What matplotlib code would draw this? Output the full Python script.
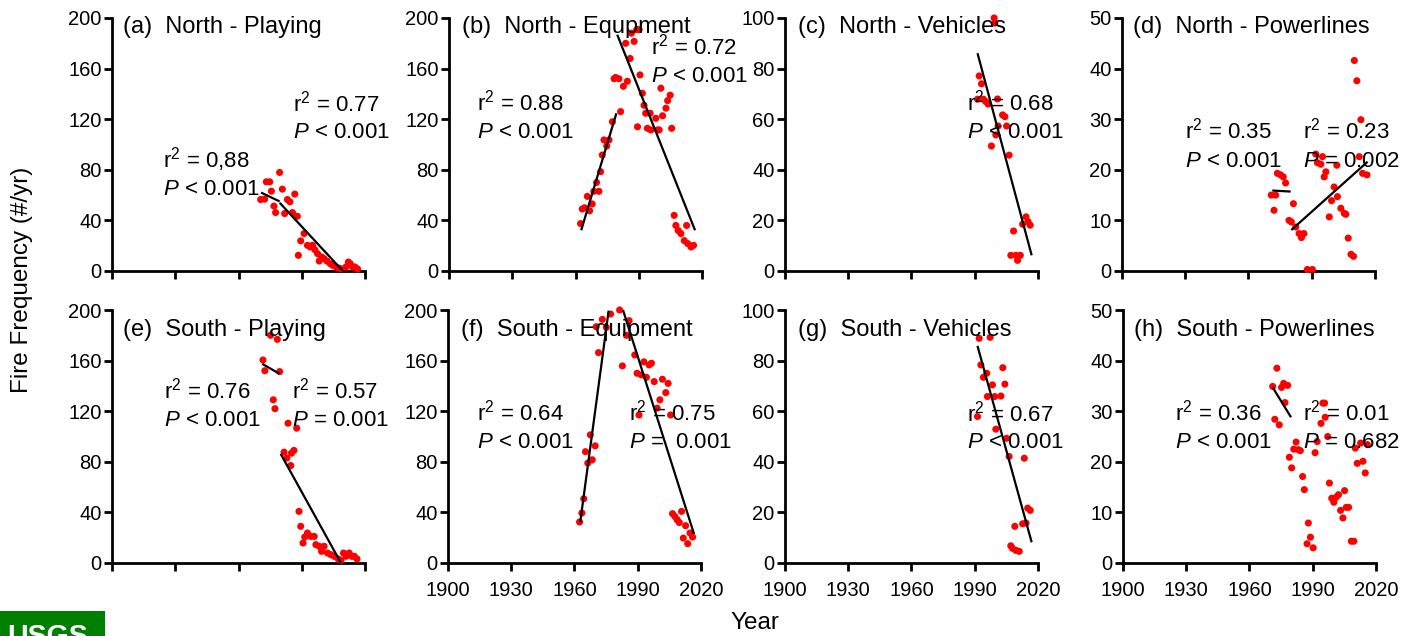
import matplotlib
matplotlib.use("Agg")
import matplotlib.pyplot as plt
from matplotlib.patches import Rectangle
import numpy as np

plt.rcParams['font.family'] = ['Liberation Sans', 'DejaVu Sans']
plt.rcParams['mathtext.fontset'] = 'custom'
plt.rcParams['mathtext.rm'] = 'Liberation Sans'
plt.rcParams['mathtext.it'] = 'Liberation Sans:italic'

# ---------------- data ----------------
years_a = [1970.5, 1972.4, 1973.2, 1974.8, 1975.6, 1976.8, 1977.6, 1979.5, 1980.8, 1981.9,
           1983.2, 1984.4, 1985.6, 1986.7, 1987.9, 1988.4, 1989.5, 1991.1, 1992.7, 1994.0,
           1995.1, 1996.2, 1997.5, 1998.3, 1999.4, 2000.6, 2001.9, 2003.5, 2004.6, 2006.2,
           2007.3, 2008.6, 2011.0, 2012.1, 2013.0, 2014.1, 2015.2, 2016.5]
vals_a = [56.5, 56.8, 70.5, 70.5, 63.1, 51.3, 46.2, 77.9, 64.7, 45.4,
          56.5, 54.7, 46.2, 60.8, 43.3, 12.4, 23.8, 29.6, 20.3, 19.0,
          20.3, 16.9, 13.7, 7.9, 11.1, 9.8, 7.9, 5.8, 4.5, 3.2,
          2.4, 1.8, 3.2, 7.1, 5.8, 3.2, 3.2, 1.6]

years_b = [1962.4, 1963.2, 1964.3, 1965.6, 1966.7, 1967.9, 1968.7, 1970.0, 1971.1, 1971.9,
           1972.7, 1973.5, 1974.8, 1975.9, 1977.5, 1978.3, 1979.0, 1980.6, 1981.4, 1982.7,
           1983.8, 1984.6, 1985.9, 1986.5, 1987.8, 1989.0, 1989.4, 1990.2, 1990.6, 1991.7,
           1992.5, 1993.3, 1994.1, 1995.4, 1995.7, 1998.1, 1998.9, 1999.7, 2000.5, 2001.3,
           2002.9, 2003.7, 2004.9, 2005.6, 2006.8, 2007.6, 2008.7, 2010.0, 2011.6, 2012.7,
           2013.2, 2014.8, 2016.0]
vals_b = [37.5, 49, 50, 59, 47.6, 53, 63, 70, 63, 78.5,
          91.7, 103.6, 98.8, 103.6, 118, 152, 153, 152, 126, 146,
          180, 150, 168, 188, 181.5, 190.8, 114, 190.8, 155, 140.5,
          131, 124.7, 112.8, 124.7, 111.5, 120.7, 111.5, 111.5, 144.5, 122.7,
          128.7, 134.7, 139, 112.8, 44, 36, 32, 29.6, 24, 36,
          21.7, 19, 20.3]

years_c = [1991.3, 1992.1, 1993.2, 1994.1, 1995.2, 1996.3, 1997.9, 1999.2, 1999.5, 2000.0,
           2000.8, 2001.1, 2003.2, 2004.3, 2005.1, 2006.3, 2007.1, 2008.4, 2009.5, 2010.3,
           2011.6, 2012.7, 2014.3, 2015.3, 2016.3]
vals_c = [67.9, 77.1, 74.0, 67.9, 67.0, 66.0, 49.4, 100, 98, 53.8,
          68, 57.3, 61.7, 61.0, 57.3, 45.8, 6.2, 15.8, 6.2, 4.2,
          6.2, 18.5, 21.4, 19.5, 18.1]

years_d = [1970.8, 1972.1, 1972.9, 1973.7, 1975.2, 1976.5, 1977.6, 1979.2, 1980.3, 1981.3,
           1982.4, 1984.0, 1985.1, 1986.3, 1987.9, 1990.3, 1991.9, 1992.7, 1994.3, 1995.1,
           1995.9, 1996.7, 1998.3, 1999.4, 2000.6, 2001.9, 2002.2, 2003.8, 2005.4, 2006.2,
           2007.3, 2008.6, 2009.8, 2010.2, 2011.4, 2012.5, 2013.3, 2014.1, 2016.2]
vals_d = [15, 12, 15, 19.3, 19, 18.6, 17.4, 10, 9.7, 13.3,
          8.7, 7.4, 6.6, 7.4, 0.3, 0.3, 23.1, 21.4, 21.1, 22.6,
          18.6, 19.6, 10.7, 13.9, 16.6, 20.9, 14.7, 12.4, 11.4, 11.2,
          6.5, 3.3, 2.9, 41.6, 37.6, 22.6, 29.9, 19.3, 19.0]

years_e = [1971.6, 1972.5, 1975.2, 1976.5, 1977.3, 1978.4, 1979.5, 1981.6, 1982.9, 1983.5,
           1984.8, 1985.1, 1986.3, 1987.6, 1988.7, 1989.5, 1990.6, 1991.4, 1992.7, 1994.3,
           1995.9, 1996.7, 1998.3, 1999.4, 2000.6, 2002.2, 2003.8, 2005.4, 2007.3, 2008.6,
           2009.8, 2011.0, 2012.5, 2013.7, 2014.9, 2016.2]
vals_e = [160.5, 152, 180, 129, 122, 176.8, 151.3, 87.6, 83, 110.5,
          77, 86.8, 89, 106.6, 40.8, 29, 15.8, 20.5, 23.7, 21,
          21, 14.5, 13.2, 9.2, 13.2, 7.9, 6.6, 5.3, 3.2, 2.1,
          7.9, 5.3, 7.9, 5.3, 5.3, 3.2]

years_f = [1962.4, 1963.5, 1964.4, 1965.2, 1966.3, 1967.5, 1968.4, 1969.8, 1970.3, 1971.4,
           1973.2, 1975.1, 1977.1, 1981.4, 1982.7, 1984.6, 1985.9, 1988.6, 1989.7, 1990.6,
           1991.7, 1992.9, 1994.1, 1995.4, 1996.5, 1997.8, 1999.2, 2000.5, 2001.7, 2003.3,
           2004.4, 2005.6, 2006.5, 2007.6, 2008.7, 2009.7, 2010.8, 2011.6, 2012.7, 2013.7,
           2014.8, 2016.0]
vals_f = [32.4, 39.5, 50.8, 88, 79, 101.3, 81.6, 92.6, 186.8, 166.3,
          192.6, 186.3, 196.8, 200, 155.8, 180, 191.6, 164.5, 150, 117,
          148.7, 159, 146.8, 156.6, 157.9, 143.4, 122.4, 129, 145.3, 134.7,
          142, 117, 39, 36.8, 34.2, 32, 40.8, 19.7, 29.5, 15.3,
          23.7, 20.5]

years_g = [1991.3, 1992.1, 1992.9, 1994.1, 1995.7, 1996.0, 1997.3, 1998.4, 1999.5, 2000.0,
           2002.4, 2003.3, 2004.3, 2005.1, 2006.3, 2007.1, 2007.9, 2009.0, 2009.5, 2011.1,
           2012.7, 2013.5, 2014.3, 2015.1, 2016.3]
vals_g = [57.9, 88.8, 78.3, 73.4, 75, 65.8, 89.2, 70.4, 65.8, 52.9,
          66, 77.2, 70.7, 49.3, 42.1, 6.8, 5.8, 14.5, 5.0, 4.6,
          15.5, 41.4, 15.8, 21.7, 20.8]

years_h = [1971.0, 1972.0, 1973.0, 1974.1, 1975.2, 1976.2, 1976.8, 1978.1, 1978.9, 1980.0,
           1981.0, 1982.1, 1983.2, 1984.1, 1985.2, 1986.0, 1987.3, 1987.9, 1988.9, 1990.2,
           1991.1, 1992.1, 1993.9, 1994.8, 1995.6, 1995.9, 1997.1, 1997.9, 1999.0, 2000.0,
           2001.1, 2002.2, 2003.2, 2004.3, 2005.1, 2005.9, 2007.0, 2008.3, 2009.5, 2010.2,
           2011.1, 2012.7, 2013.8, 2014.9, 2015.9]
vals_h = [34.9, 28.4, 38.5, 27.3, 34.7, 35.5, 31.7, 35.1, 20.9, 18.8,
          22.5, 23.9, 22.4, 22.2, 17.1, 14.5, 3.8, 7.9, 5.1, 3.0,
          21.8, 24.0, 27.6, 31.6, 31.6, 28.8, 25.0, 15.8, 12.8, 12.0,
          13.0, 13.5, 10.4, 8.9, 14.3, 11.0, 11.0, 4.3, 4.3, 22.7,
          19.7, 23.7, 20.1, 17.8, 23.4]

# regression segments: (year0, value0, year1, value1)
fits_a = [(1970.7, 62, 1979.5, 55), (1979.5, 54, 2009.5, 0)]
fits_b = [(1962.7, 32.2, 1979.4, 124.7), (1979.8, 186.8, 2016.7, 32.2)]
fits_c = [(1991.3, 86.1, 2017.0, 6.2)]
fits_d = [(1971.3, 15.9, 1980.0, 15.7), (1980.3, 8.1, 2016.5, 21.6)]
fits_e = [(1971.3, 157.4, 1979.5, 149.5), (1980.0, 86.3, 2008.6, 0)]
fits_f = [(1962.7, 32.1, 1976.2, 199.5), (1983.0, 200, 2016.7, 22.9)]
fits_g = [(1991.3, 85.8, 2017.0, 8.2)]
fits_h = [(1971.0, 34.7, 1979.7, 28.8)]

titles = ["(a)  North - Playing", "(b)  North - Equpment", "(c)  North - Vehicles",
          "(d)  North - Powerlines", "(e)  South - Playing", "(f)  South - Equipment",
          "(g)  South - Vehicles", "(h)  South - Powerlines"]

# annotations: (r2 text, P text)
stats_a = [("0,88", "< 0.001"), ("0.77", "< 0.001")]
stats_b = [("0.88", "< 0.001"), ("0.72", "< 0.001")]
stats_c = [("0.68", "< 0.001")]
stats_d = [("0.35", "< 0.001"), ("0.23", "= 0.002")]
stats_e = [("0.76", "< 0.001"), ("0.57", "= 0.001")]
stats_f = [("0.64", "< 0.001"), ("0.75", "=  0.001")]
stats_g = [("0.67", "< 0.001")]
stats_h = [("0.36", "< 0.001"), ("0.01", "= 0.682")]

y_max = [200, 200, 100, 50, 200, 200, 100, 50]
y_step = [40, 40, 20, 10, 40, 40, 20, 10]
x_ticks = [1900, 1930, 1960, 1990, 2020]

# ---------------- layout ----------------
W, H = 1402, 636
fig = plt.figure(figsize=(W / 100, H / 100), dpi=100)

lefts_px = [112, 449, 785, 1122, 112, 448, 785, 1123]
bottoms_px = [271, 271, 271, 271, 563, 563, 563, 563]
aw, ah = 253, 253

# annotation positions in axes fraction: (x, y_r2, y_p)
stat_pos = [
    [(0.20, 0.41, 0.30), (0.714, 0.632, 0.527)],
    [(0.11, 0.636, 0.525), (0.80, 0.857, 0.748)],
    [(0.718, 0.636, 0.525)],
    [(0.249, 0.525, 0.412), (0.717, 0.525, 0.412)],
    [(0.204, 0.651, 0.541), (0.713, 0.651, 0.541)],
    [(0.116, 0.5625, 0.453), (0.717, 0.5625, 0.453)],
    [(0.718, 0.561, 0.453)],
    [(0.206, 0.5625, 0.453), (0.71, 0.5625, 0.453)],
]
title_pos = [(0.042, 0.94), (0.05, 0.94), (0.05, 0.94), (0.043, 0.94),
             (0.042, 0.898), (0.05, 0.898), (0.05, 0.898), (0.043, 0.898)]

years_all = [years_a, years_b, years_c, years_d, years_e, years_f, years_g, years_h]
vals_all = [vals_a, vals_b, vals_c, vals_d, vals_e, vals_f, vals_g, vals_h]
fits_all = [fits_a, fits_b, fits_c, fits_d, fits_e, fits_f, fits_g, fits_h]
stats_all = [stats_a, stats_b, stats_c, stats_d, stats_e, stats_f, stats_g, stats_h]

for i in range(8):
    ax = fig.add_axes([lefts_px[i] / W, (H - bottoms_px[i]) / H, aw / W, ah / H])
    ax.set_xlim(1900, 2020)
    ax.set_ylim(0, y_max[i])
    ax.set_xticks(x_ticks)
    ax.set_yticks(np.arange(0, y_max[i] + 1, y_step[i]))
    for s in ['top', 'right']:
        ax.spines[s].set_visible(False)
    for s in ['left', 'bottom']:
        ax.spines[s].set_linewidth(2.0)
    ax.tick_params(axis='both', direction='out', length=6, width=2.0, labelsize=14.5)
    ax.tick_params(axis='x', pad=7, labelbottom=(i in (5, 6, 7)))
    ax.tick_params(axis='y', pad=1.5)
    ax.patch.set_alpha(0)

    ax.scatter(years_all[i], vals_all[i], s=26, color='#ff0000', edgecolors='none',
               clip_on=False, zorder=3)
    for (x0, y0, x1, y1) in fits_all[i]:
        ax.plot([x0, x1], [y0, y1], color='black', lw=1.6, zorder=4, clip_on=False,
                solid_capstyle='butt')

    tx, ty = title_pos[i]
    ax.text(tx, ty, titles[i], transform=ax.transAxes, fontsize=17, ha='left',
            va='baseline', zorder=6)
    for (r2, p), (sx, sy1, sy2) in zip(stats_all[i], stat_pos[i]):
        ax.text(sx, sy1, r'r$^{2}$ = ' + r2, transform=ax.transAxes, fontsize=16,
                ha='left', va='baseline', zorder=6)
        ax.text(sx, sy2, r'$\mathit{P}$ ' + p, transform=ax.transAxes, fontsize=16,
                ha='left', va='baseline', zorder=6)

fig.text(22 / W, 0.56, 'Fire Frequency (#/yr)', rotation=90, fontsize=17.5,
         ha='center', va='center')
fig.text(755 / W, 0.02, 'Year', fontsize=17.5, ha='center', va='center')

# logo fragment at bottom-left (cut by the lower edge, as in the reference)
fig.patches.append(Rectangle((0, 0), 105 / W, 25 / H, transform=fig.transFigure,
                             facecolor='#008000', edgecolor='none'))
fig.text(7 / W, -8 / H, 'USGS', color='white', fontsize=20.5, fontweight='bold',
         ha='left', va='baseline')

fig.savefig('out.png', dpi=100)
